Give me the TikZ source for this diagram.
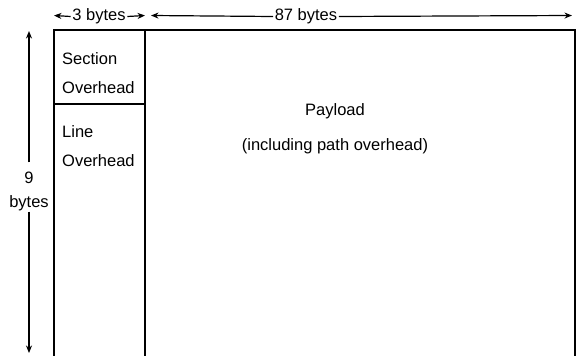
\documentclass[tikz,border=0pt]{standalone}
\usepackage{fontspec}
\setmainfont{Liberation Sans}
\usetikzlibrary{arrows.meta}

\begin{document}
\begin{tikzpicture}[x=1pt,y=-1pt,
          lb/.style={font=\fontsize{16.5}{28.5}\selectfont,inner sep=0pt},
          dim/.style={lb,inner xsep=1.5pt,fill=white},
          ar/.style={-{Stealth[length=7.5pt,width=6pt]},line width=1.2pt},
          fr/.style={line width=1.4pt}
        ]
          \useasboundingbox (0,0) rectangle (576,356);

          % frame of the block
          \draw[fr] (54,356) -- (54,30) -- (575,30) -- (575,356);
          \draw[fr] (145,30) -- (145,356);
          \draw[fr] (54,104) -- (145,104);

          % texts in the block
          \node(sec)[lb,align=left,anchor=west] at (62,73){Section\\Overhead};
          \node(lin)[lb,align=left,anchor=west] at (62,146){Line\\Overhead};
          \node(pay)[lb,align=center,font=\fontsize{16.5}{35}\selectfont] at (335,129){Payload\\(including path overhead)};

          % dimensions
          \coordinate(b3l) at (54,15.5);
          \coordinate(b3r) at (145,15.5);
          \coordinate(b87l) at (151,15.5);
          \coordinate(b87r) at (572,15.5);
          \coordinate(b9t) at (29,31);
          \coordinate(b9b) at (29,353);
          \node(b3)[dim] at (99,16.5){3 bytes};
          \node(b87)[dim] at (306,16.5){87 bytes};
          \node(b9)[lb,align=center,font=\fontsize{16.5}{24}\selectfont] at (29,191){9\\bytes};

          \draw[ar] (b3.west) -- (b3l);
          \draw[ar] (b3.east) -- (b3r);
          \draw[ar] (b87.west) -- (b87l);
          \draw[ar] (b87.east) -- (b87r);
          \draw[ar] ([yshift=9pt]b9.north) -- (b9t);
          \draw[ar] ([yshift=-1pt]b9.south) -- (b9b);
        \end{tikzpicture}
\end{document}
